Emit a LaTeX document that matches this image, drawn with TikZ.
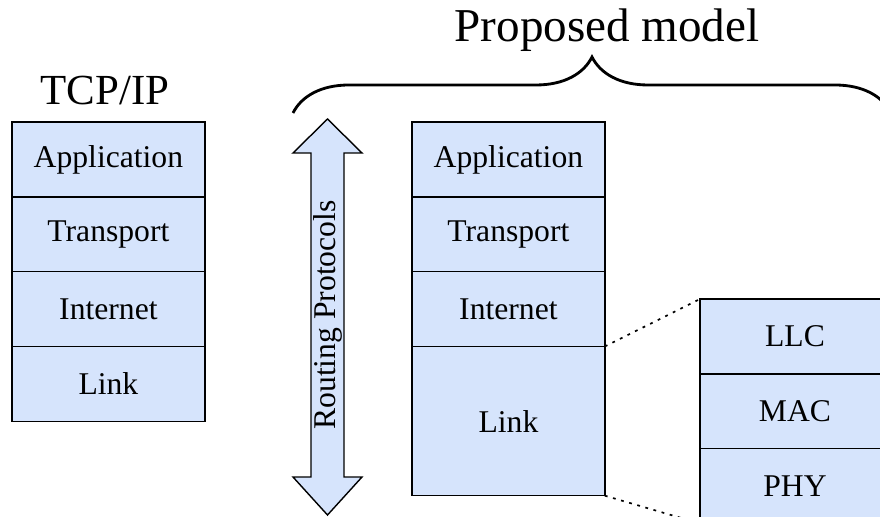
\documentclass[tikz,border=0pt]{standalone}
\usepackage{fontspec}
\setmainfont{Liberation Serif}
\newfontfamily\layerfont{Liberation Serif}
\usetikzlibrary{positioning,decorations.pathreplacing}
\definecolor{LayerBlue}{HTML}{D6E4FC}
\tikzset{
  layer/.style={draw=black, fill=LayerBlue, line width=1pt, minimum width=4.82cm,
    minimum height=1.87cm, inner sep=0pt, outer sep=0pt, font=\layerfont\fontsize{22.5}{27}\selectfont},
  heading/.style={font=\layerfont\fontsize{32}{38}\selectfont, inner sep=0pt},
  zoomline/.style={line width=1.2pt, dash pattern=on 2pt off 4pt},
  routearrow/.style={draw=black, fill=LayerBlue, line width=1pt, line join=miter}
}

\begin{document}
\begin{tikzpicture}[x=0.025cm, y=-0.025cm]
\useasboundingbox (0,0) rectangle (880,517);
\clip (0,0) rectangle (880,517);

% plain TCP/IP stack
\node[heading, anchor=base, font=\layerfont\fontsize{30.5}{36}\selectfont] (tcpip) at (105,105) {TCP/IP};
\node[layer, anchor=north west] at (12,122) (appL) {Application};
\node[layer, below=0pt of appL] (transL) {Transport};
\node[layer, below=0pt of transL] (netL) {Internet};
\node[layer, below=0pt of netL] (linkL) {Link};

% routing spans every layer
\draw[routearrow] (327.5,119) -- (362,153) -- (344,153) -- (344,477) -- (362,477)
  -- (327.5,515) -- (293,477) -- (311,477) -- (311,153) -- (293,153) -- cycle;
\node[rotate=90, font=\layerfont\fontsize{22.5}{27}\selectfont, inner sep=0pt] at (327.5,315) (routing) {Routing Protocols};

% proposed stack, link layer opened up on the right
\node[layer, anchor=north west] at (412,122) (appM) {Application};
\node[layer, below=0pt of appM] (transM) {Transport};
\node[layer, below=0pt of transM] (netM) {Internet};
\node[layer, below=0pt of netM, minimum height=3.73cm] (linkM) {Link};

\node[layer, anchor=north west, minimum width=4.75cm] at (700,299) (llc) {LLC};
\node[layer, below=0pt of llc, minimum width=4.75cm] (mac) {MAC};
\node[layer, below=0pt of mac, minimum width=4.75cm] (phy) {PHY};

\draw[zoomline] (linkM.north east) -- (llc.north west);
\draw[zoomline] (linkM.south east) -- (phy.south west);

% brace over the proposed model
\coordinate (braceL) at (293,113);
\coordinate (braceR) at (891,113);
\draw[decorate, decoration={brace, amplitude=1.4cm}, line width=2pt] (braceL) -- (braceR);
\node[heading, anchor=base, font=\layerfont\fontsize{33.5}{40}\selectfont] (proposed) at (607,42) {Proposed model};
\end{tikzpicture}
\end{document}
